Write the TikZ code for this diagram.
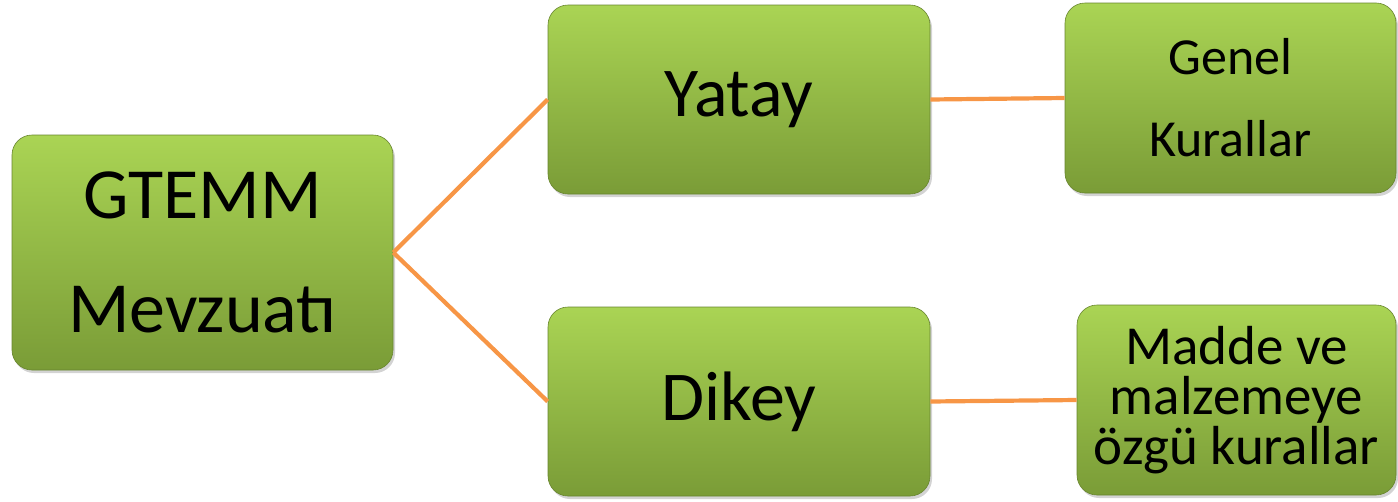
\documentclass[tikz,border=0pt]{standalone}
\usepackage{fontspec}
\setmainfont{Carlito}
\usetikzlibrary{shadows}
\definecolor{boxtop}{RGB}{170,212,84}
\definecolor{boxbot}{RGB}{122,156,55}
\definecolor{linkorange}{RGB}{247,150,70}
\tikzset{
  box/.style={rounded corners=20pt, top color=boxtop, bottom color=boxbot,
    draw=boxbot!85!black, line width=0.6pt, align=center, inner sep=0pt,
    drop shadow={shadow xshift=2pt, shadow yshift=-3pt, opacity=0.35}},
  link/.style={linkorange, line width=4.2pt}
}

\begin{document}
\begin{tikzpicture}[x=1pt, y=-1pt]
\useasboundingbox (0,0) rectangle (1398,501);
% boxes, left to right, top to bottom
\node[box, minimum width=381pt, minimum height=235pt, font=\fontsize{72}{114}\selectfont]
  (gtemm) at (202.5,252.5) {GTEMM\\Mevzuatı};
\node[box, minimum width=382pt, minimum height=189pt, font=\fontsize{70}{84}\selectfont]
  (yatay) at (739,99.5) {Yatay};
\node[box, minimum width=331pt, minimum height=190pt, font=\fontsize{52}{82}\selectfont]
  (genel) at (1230.5,98) {Genel\\Kurallar};
\node[box, minimum width=382pt, minimum height=189pt, font=\fontsize{70}{84}\selectfont]
  (dikey) at (739,401.5) {Dikey};
\node[box, minimum width=319pt, minimum height=190pt, font=\fontsize{55}{50}\selectfont]
  (madde) at (1236.5,400) {Madde ve\\malzemeye\\özgü kurallar};
%
\draw[link] (gtemm.east) -- (yatay.west);
\draw[link] (gtemm.east) -- (dikey.west);
\draw[link] (yatay.east) -- (genel.west);
\draw[link] (dikey.east) -- (madde.west);
\end{tikzpicture}
\end{document}
